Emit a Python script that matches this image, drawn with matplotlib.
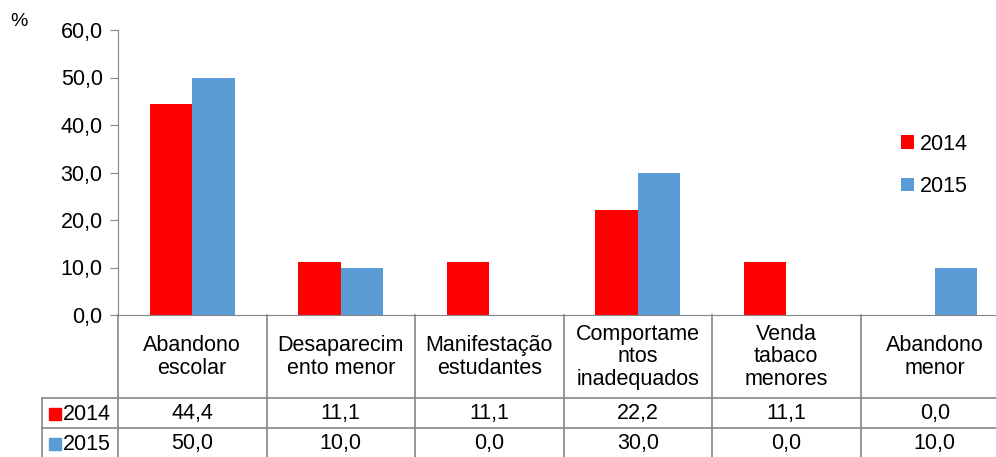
import numpy as np
import matplotlib.pyplot as plt

plt.rcParams['font.family'] = ['Liberation Sans', 'DejaVu Sans']

# data
categories = ['Abandono\nescolar', 'Desaparecim\nento menor', 'Manifestação\nestudantes',
              'Comportame\nntos\ninadequados', 'Venda\ntabaco\nmenores', 'Abandono\nmenor']
v2014 = [44.4, 11.1, 11.1, 22.2, 11.1, 0.0]
v2015 = [50.0, 10.0, 0.0, 30.0, 0.0, 10.0]
series = ['2014', '2015']
colors = ['#FF0000', '#5B9BD5']
yticks = [0, 10, 20, 30, 40, 50, 60]

W, H = 996, 457
fs = 15.5
fig = plt.figure(figsize=(W / 100, H / 100), dpi=100)
# axes in pixel layout (right edge runs off the image like the original)
x0, x1, ytop, ybot = 118, 1009, 30, 315
ax = fig.add_axes([x0 / W, 1 - ybot / H, (x1 - x0) / W, (ybot - ytop) / H])

n = len(categories)
x = np.arange(n)
bw = 0.286
ax.bar(x - bw / 2, v2014, bw, color=colors[0], label=series[0])
ax.bar(x + bw / 2, v2015, bw, color=colors[1], label=series[1])

ax.set_xlim(-0.5, n - 0.5)
ax.set_ylim(0, 60)
ax.set_yticks(yticks)
ax.set_yticklabels([f'{t:.1f}'.replace('.', ',') for t in yticks], fontsize=fs)
ax.set_xticks([])
gray = '#868686'
for s in ['top', 'right']:
    ax.spines[s].set_visible(False)
for s in ['left', 'bottom']:
    ax.spines[s].set_color(gray)
ax.tick_params(axis='y', length=6, color=gray, pad=5)

ax.text(-0.121, 1.0, '%', transform=ax.transAxes, fontsize=14, ha='left', va='bottom')

# data table under the axis
axh = ybot - ytop
def ay(py):
    return (ybot - py) / axh

tr = ax.get_xaxis_transform()
col_x = [i - 0.5 for i in range(n + 1)]
left_x = -0.5 - (x0 - 42) / ((x1 - x0) / n)
kw = dict(color=gray, lw=1.2, clip_on=False, transform=tr)
for cx in col_x:
    ax.plot([cx, cx], [0, ay(470)], **kw)
ax.plot([left_x, left_x], [ay(398), ay(470)], **kw)
for py in [398, 428]:
    ax.plot([left_x, n], [ay(py), ay(py)], **kw)

for i, c in enumerate(categories):
    ax.text(i, ay(357), c, transform=tr, ha='center', va='center', fontsize=fs,
            linespacing=1.12)
row_y = [ay(414), ay(444)]
for r, vals in enumerate([v2014, v2015]):
    for i, v in enumerate(vals):
        ax.text(i, row_y[r], f'{v:.1f}'.replace('.', ','), transform=tr,
                ha='center', va='center', fontsize=fs)
    ax.plot([left_x + 0.085], [row_y[r]], 's', color=colors[r], ms=8,
            transform=tr, clip_on=False)
    ax.text(left_x + 0.14, row_y[r], series[r], transform=tr, ha='left',
            va='center', fontsize=fs)

# legend
leg = ax.legend(loc='upper left', bbox_to_anchor=((892 - x0) / (x1 - x0), ay(125)),
                frameon=False, fontsize=fs, handlelength=0.6, handleheight=0.6,
                handletextpad=0.3, labelspacing=1.0, borderaxespad=0)

fig.savefig('out.png', dpi=100)
